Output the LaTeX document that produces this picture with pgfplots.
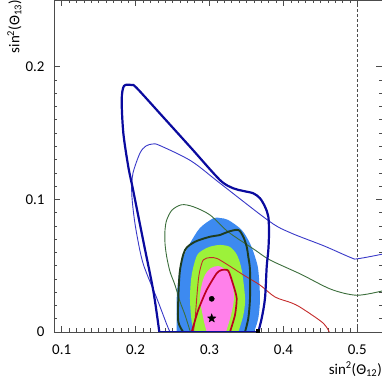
\documentclass[border=0pt]{standalone}
\usepackage{fontspec}
\setmainfont{Carlito}
\usepackage{pgfplots}
\pgfplotsset{compat=1.18}

\definecolor{navyc}{HTML}{0A0A9E}
\definecolor{thinblue}{HTML}{3838C8}
\definecolor{fillblue}{HTML}{3D8AF0}
\definecolor{fillgreen}{HTML}{9CF23A}
\definecolor{fillpink}{HTML}{FF80EA}
\definecolor{darkgreen}{HTML}{1E3C1E}
\definecolor{thingreen}{HTML}{3C6E3C}
\definecolor{darkred}{HTML}{BC0020}
\definecolor{thinred}{HTML}{C42A2A}

% filled five-pointed star
\pgfdeclareplotmark{fstar}{%
  \pgfpathmoveto{\pgfqpointpolar{90}{\pgfplotmarksize}}%
  \pgfpathlineto{\pgfqpointpolar{126}{0.42\pgfplotmarksize}}%
  \pgfpathlineto{\pgfqpointpolar{162}{\pgfplotmarksize}}%
  \pgfpathlineto{\pgfqpointpolar{198}{0.42\pgfplotmarksize}}%
  \pgfpathlineto{\pgfqpointpolar{234}{\pgfplotmarksize}}%
  \pgfpathlineto{\pgfqpointpolar{270}{0.42\pgfplotmarksize}}%
  \pgfpathlineto{\pgfqpointpolar{306}{\pgfplotmarksize}}%
  \pgfpathlineto{\pgfqpointpolar{342}{0.42\pgfplotmarksize}}%
  \pgfpathlineto{\pgfqpointpolar{18}{\pgfplotmarksize}}%
  \pgfpathlineto{\pgfqpointpolar{54}{0.42\pgfplotmarksize}}%
  \pgfpathclose
  \pgfusepathqfillstroke}

\begin{document}
\begin{tikzpicture}
\begin{axis}[
  scale only axis, width=328bp, height=332bp,
  xmin=0.0896, xmax=0.5334, ymin=0, ymax=0.2502,
  xtick={0.1,0.2,0.3,0.4,0.5}, ytick={0,0.1,0.2},
  minor tick num=9, scaled ticks=false,
  tick align=inside, major tick length=6bp, minor tick length=3.5bp,
  axis line style={draw=black!70, line width=0.6bp},
  every tick/.style={black!70, line width=0.5bp},
  /pgf/number format/fixed, /pgf/number format/precision=1,
  /pgf/number format/assume math mode=true,
  tick label style={font=\fontsize{15}{18}\selectfont},
  yticklabel style={xshift=-6bp},
  xticklabel style={yshift=-9bp},
  xlabel={sin\textsuperscript{2}(Θ\textsubscript{12})},
  xlabel style={at={(rel axis cs:1,0)}, anchor=north east, inner sep=0pt,
    yshift=-30bp, font=\fontsize{15}{18}\selectfont},
  ylabel={sin\textsuperscript{2}(Θ\textsubscript{13})},
  ylabel style={at={(rel axis cs:-0.143,1)}, anchor=north east, inner sep=0pt,
    font=\fontsize{15}{18}\selectfont},
]
% filled regions
\addplot[fill=fillblue, draw=none, smooth, tension=0.5] coordinates {
  (0.2556,0) (0.2556,0.0078) (0.2556,0.0254) (0.2578,0.0392) (0.2601,0.0467)
  (0.2646,0.0567) (0.2736,0.0668) (0.2871,0.0784) (0.3051,0.0857) (0.3142,0.0859)
  (0.3254,0.0844) (0.3436,0.0769) (0.3548,0.0668) (0.3616,0.0567) (0.3660,0.0467)
  (0.3683,0.0254) (0.3660,0.0103) (0.3602,0)};
\addplot[fill=fillgreen, draw=none, smooth, tension=0.5] coordinates {
  (0.2804,0) (0.2759,0.0078) (0.2736,0.0254) (0.2759,0.0430) (0.2827,0.0573)
  (0.2912,0.0618) (0.3007,0.0643) (0.3142,0.0656) (0.3277,0.0641) (0.3372,0.0580)
  (0.3436,0.0467) (0.3481,0.0254) (0.3458,0.0128) (0.3390,0)};
\addplot[fill=fillpink, draw=none, smooth, tension=0.5] coordinates {
  (0.2962,0) (0.2916,0.0103) (0.2871,0.0254) (0.2894,0.0354) (0.2939,0.0430)
  (0.3020,0.0482) (0.3119,0.0497) (0.3223,0.0467) (0.3304,0.0392) (0.3331,0.0256)
  (0.3291,0.0128) (0.3223,0)};
% dashed line at maximal mixing
\addplot[black!70, line width=0.6bp, dash pattern=on 3bp off 2bp] coordinates {(0.5,0) (0.5,0.2502)};
% thin contours
\addplot[thinblue, line width=0.9bp, smooth, tension=0.5] coordinates {
  (0.2466,0) (0.2421,0.0058) (0.2286,0.0256) (0.2104,0.0512) (0.2015,0.0739)
  (0.1969,0.0912) (0.1947,0.1063) (0.1965,0.1198) (0.2060,0.1349) (0.2141,0.1402)
  (0.2235,0.1417) (0.2330,0.1405) (0.2751,0.1289) (0.3142,0.1121) (0.3818,0.0831)
  (0.4103,0.0746) (0.4553,0.0648) (0.4915,0.0560) (0.5005,0.0552) (0.5334,0.0586)};
\addplot[thingreen, line width=0.9bp, smooth, tension=0.5] coordinates {
  (0.2741,0) (0.2669,0.0128) (0.2601,0.0228) (0.2533,0.0354) (0.2466,0.0454)
  (0.2421,0.0567) (0.2398,0.0668) (0.2398,0.0769) (0.2421,0.0844) (0.2493,0.0919)
  (0.2624,0.0959) (0.2781,0.0944) (0.3007,0.0882) (0.3254,0.0754) (0.3616,0.0618)
  (0.3818,0.0543) (0.4238,0.0435) (0.4644,0.0322) (0.4992,0.0277) (0.5334,0.0309)};
\addplot[thinred, line width=0.9bp, smooth, tension=0.5] coordinates {
  (0.2780,0) (0.2804,0.0090) (0.2827,0.0254) (0.2849,0.0392) (0.2871,0.0467)
  (0.2916,0.0543) (0.3007,0.0561) (0.3102,0.0554) (0.3250,0.0505) (0.3481,0.0422)
  (0.3683,0.0354) (0.3886,0.0264) (0.4103,0.0221) (0.4238,0.0183) (0.4532,0.0070)
  (0.4621,0)};
% thick contours
\addplot[darkgreen, line width=1.9bp, smooth, tension=0.5] coordinates {
  (0.2645,0) (0.2578,0.0078) (0.2578,0.0254) (0.2601,0.0467) (0.2669,0.0618)
  (0.2804,0.0680) (0.3007,0.0718) (0.3142,0.0731) (0.3254,0.0756) (0.3390,0.0769)
  (0.3457,0.0718) (0.3503,0.0643) (0.3525,0.0567) (0.3548,0.0467) (0.3548,0.0254)
  (0.3525,0.0103) (0.3480,0)};
\addplot[darkred, line width=1.7bp, smooth, tension=0.4] coordinates {
  (0.2759,0) (0.2848,0.0166) (0.2962,0.0317) (0.3097,0.0442) (0.3165,0.0467)
  (0.3254,0.0462) (0.3322,0.0354) (0.3368,0.0254) (0.3345,0.0128) (0.3277,0)};
\addplot[navyc, line width=2.2bp, smooth, tension=0.5] coordinates {
  (0.2321,0) (0.2240,0.0309) (0.2104,0.0686) (0.1969,0.1063) (0.1901,0.1246)
  (0.1834,0.1500) (0.1812,0.1748) (0.1843,0.1854) (0.1947,0.1861) (0.2015,0.1839)
  (0.2384,0.1613) (0.2751,0.1387) (0.3142,0.1145) (0.3322,0.1083) (0.3457,0.1063)
  (0.3593,0.1045) (0.3683,0.1008) (0.3751,0.0944) (0.3796,0.0869) (0.3805,0.0746)
  (0.3796,0.0618) (0.3774,0.0492) (0.3751,0.0254) (0.3706,0.0103) (0.3660,0)};
\addplot[navyc, line width=2.2bp] coordinates {(0.2321,0) (0.3660,0)};
% best fit, true value, marker
\addplot[only marks, mark=*, mark size=2.6bp, black] coordinates {(0.3030,0.0250)};
\addplot[only marks, mark=fstar, mark size=4.5bp, black, mark options={fill=black, line width=0.3bp}] coordinates {(0.3030,0.0103)};
\addplot[only marks, mark=square*, mark size=1.6bp, black] coordinates {(0.3652,0.0012)};
\end{axis}
\pgfresetboundingbox
\path (current axis.south west) ++(-54bp,-50bp) rectangle (current axis.north east);
\end{tikzpicture}
\end{document}
